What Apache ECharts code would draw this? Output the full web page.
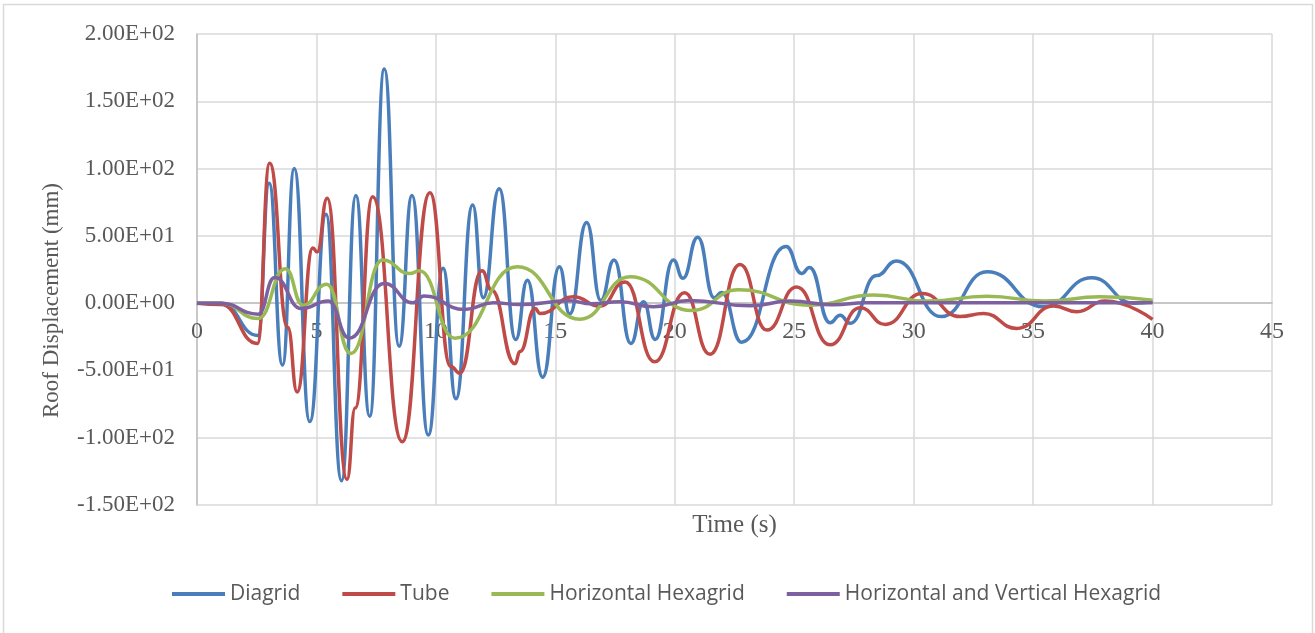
<!DOCTYPE html>
<html>
   <head>
      <meta charset="utf-8">
      <script src="https://cdn.jsdelivr.net/npm/echarts/dist/echarts.min.js"></script>
      <style>
         html, body { margin: 0; padding: 0; background: #fff; }
      </style>
   </head>
   <body>
      <div id="main" style="width: 1315px; height: 633px"></div>
      <script type="text/javascript">
          // 各结构的屋顶位移时程 [时间(s), 位移(mm)]，取自图中的峰谷点
          var diagrid = [[0, 0], [1, 0], [2.55, -24], [3.02, 89], [3.58, -46], [4.07, 100], [4.72, -88], [5.4, 66],
              [6.05, -132], [6.65, 80], [7.23, -84], [7.84, 174], [8.46, -32], [9.0, 80], [9.68, -98], [10.3, 26],
              [10.84, -71], [11.54, 73], [11.98, 4], [12.65, 85], [13.34, -27], [13.83, 17], [14.47, -55], [15.17, 27],
              [15.6, -8], [16.31, 60], [16.9, 2], [17.46, 32], [18.16, -30], [18.69, 1], [19.18, -27], [19.94, 32],
              [20.34, 18.5], [20.96, 49], [21.65, 4], [21.96, 8], [22.8, -29], [24.66, 42], [25.31, 22], [25.64, 26.5],
              [26.5, -14.6], [26.92, -9], [27.34, -15], [28.45, 20.5], [29.27, 31.4], [31.15, -10], [33.07, 23.3],
              [35.44, -2.7], [37.46, 18.8], [39.2, 0], [40, 1]];

          var tube = [[0, 0], [1.0, -1], [2.53, -30], [3.04, 104], [3.8, -18], [4.19, -66], [4.85, 41], [5.03, 38],
              [5.45, 78], [6.28, -131], [6.62, -78], [7.35, 79], [8.59, -103], [9.75, 82], [10.62, -47], [11.0, -52],
              [11.93, 24], [12.33, 9.7], [13.31, -45], [13.52, -36], [14.15, -4], [14.36, -7.7], [15.75, 4.7],
              [16.87, -2.2], [17.92, 15.8], [19.15, -43.6], [20.41, 7.7], [21.47, -38], [22.73, 28.7], [23.85, -20],
              [25.1, 12], [26.5, -31], [27.76, -3.5], [28.81, -15.8], [30.35, 7.2], [31.95, -10], [32.93, -7.7],
              [34.32, -18.8], [35.86, -2.2], [36.83, -6.4], [38.0, 1.5], [40, -12]];

          var hexH = [[0, 0], [1, 0], [2.56, -11.4], [3.7, 25.5], [4.44, -1.5], [5.43, 14], [6.44, -37.4], [7.77, 32],
              [8.91, 22], [9.3, 24], [10.8, -26], [13.41, 27], [16.03, -11.9], [18.13, 19.6], [20.7, -5.5],
              [22.66, 10], [25.66, -1.5], [28.32, 6], [30.6, 1.5], [33.07, 5.2], [35.5, 1.5], [37.8, 4.7], [40, 2.2]];

          var hexHV = [[0, 0], [1, 0], [2.56, -8.2], [3.25, 19], [4.37, -4], [5.5, 1.5], [6.37, -26], [7.84, 14.6],
              [9.05, 0.2], [9.5, 5.4], [11.2, -4.7], [12.4, 0.3], [13.5, -1], [15.6, 1.7], [16.5, -0.5], [17.7, 1],
              [19.1, -2.7], [20.6, 2], [23.15, -2], [24.83, 1.5], [26.64, -1.2], [28, 0.3], [40, 0.3]];

          var seriesNames = ['Diagrid', 'Tube', 'Horizontal Hexagrid', 'Horizontal and Vertical Hexagrid'];
          var seriesColors = ['#4a7ebb', '#be4b48', '#98b954', '#7d60a0'];

          // 科学计数法刻度 2.00E+02
          function sci(v) {
              if (v === 0) return '0.00E+00';
              var e = Math.floor(Math.log10(Math.abs(v)));
              var m = (v / Math.pow(10, e)).toFixed(2);
              var ae = Math.abs(e);
              return m + 'E' + (e < 0 ? '-' : '+') + (ae < 10 ? '0' : '') + ae;
          }

          var myChart = echarts.init(document.getElementById('main'));
          var serif = 'Liberation Serif, Times New Roman, serif';

          // 绘图区: 上 34, 下 505 -> 零线位置
          var gridTop = 34, gridBottom = 128, yMin = -150, yMax = 200;
          var plotH = 633 - gridTop - gridBottom;
          var zeroOffset = -plotH * (0 - yMin) / (yMax - yMin);

          myChart.setOption({
              animation: false,
              backgroundColor: '#fff',
              color: seriesColors,
              graphic: [{
                  type: 'rect',
                  shape: { x: 3.5, y: 4.5, width: 1309, height: 640 },
                  style: { fill: 'none', stroke: '#d9d9d9', lineWidth: 1.5 }
              }, {
                  type: 'text',
                  x: 734.5,
                  y: 525,
                  style: {
                      text: 'Time (s)',
                      font: '25px ' + serif,
                      fill: '#595959',
                      align: 'center',
                      verticalAlign: 'middle'
                  }
              }],
              grid: { left: 197, right: 43, top: gridTop, bottom: gridBottom },
              legend: {
                  data: seriesNames,
                  left: 172,
                  top: 582,
                  padding: 0,
                  icon: 'rect',
                  itemWidth: 53,
                  itemHeight: 4,
                  itemGap: 42,
                  textStyle: { fontFamily: 'Open Sans', fontSize: 21, color: '#595959', lineHeight: 24 }
              },
              xAxis: {
                  type: 'value',
                  min: 0,
                  max: 45,
                  interval: 5,
                  offset: zeroOffset,
                  axisLine: { onZero: false, lineStyle: { color: '#bfbfbf', width: 1.5 } },
                  axisTick: { show: false },
                  axisLabel: { margin: 17, fontFamily: serif, fontSize: 24, color: '#595959' },
                  splitLine: { lineStyle: { color: '#d9d9d9', width: 1.5 } }
              },
              yAxis: {
                  type: 'value',
                  min: yMin,
                  max: yMax,
                  interval: 50,
                  axisLine: { show: true, lineStyle: { color: '#bfbfbf', width: 1.5 } },
                  axisTick: { show: false },
                  axisLabel: { margin: 22, fontFamily: serif, fontSize: 23, color: '#595959', formatter: sci },
                  splitLine: { lineStyle: { color: '#d9d9d9', width: 1.5 } },
                  name: 'Roof Displacement (mm)',
                  nameLocation: 'middle',
                  nameGap: 134,
                  nameTextStyle: { fontFamily: serif, fontSize: 23, color: '#595959', padding: [0, 62, 0, 0] }
              },
              series: [diagrid, tube, hexH, hexHV].map(function (d, i) {
                  return {
                      name: seriesNames[i],
                      type: 'line',
                      data: d,
                      smooth: 0.5,
                      smoothMonotone: 'x',
                      showSymbol: false,
                      lineStyle: { width: 3.5, color: seriesColors[i] }
                  };
              })
          });
      </script>
   </body>
</html>
